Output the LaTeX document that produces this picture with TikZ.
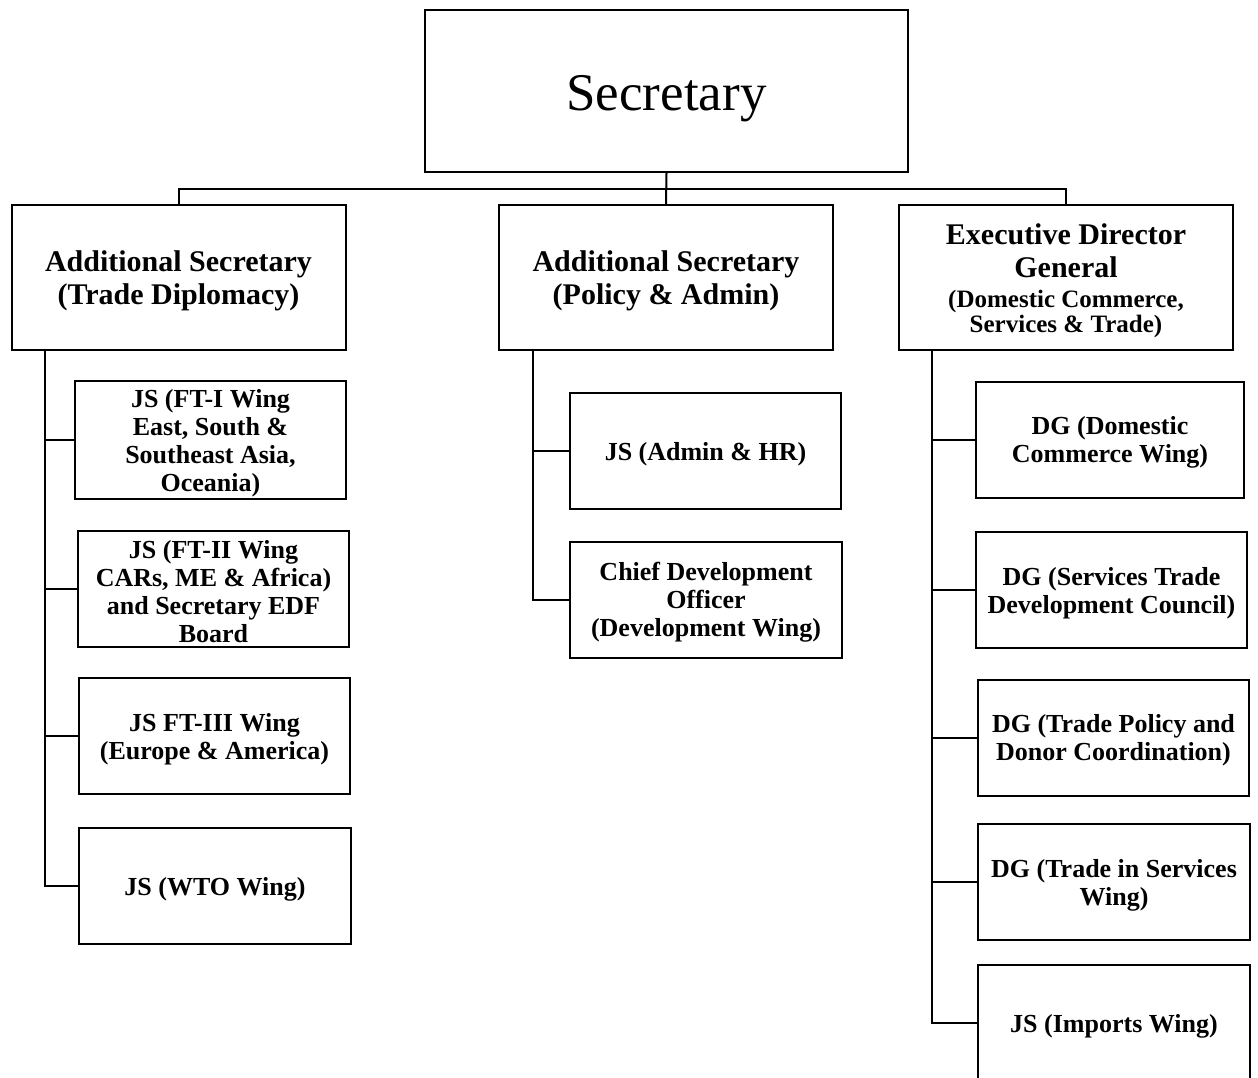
\documentclass[tikz,border=0pt]{standalone}
\usepackage{fontspec}
\setmainfont{Liberation Serif}
% invisible struts that give the first line of a box a little more headroom
\newcommand\kidstrut{\rule{0pt}{24pt}}
\newcommand\headstrut{\rule{0pt}{28pt}}
\begin{document}
\begin{tikzpicture}[x=1pt,y=-1pt,
  box/.style={draw, line width=2pt, align=flush center, inner sep=2pt,
    font=\bfseries\fontsize{26}{28}\selectfont},
  kid/.style={box, text width=262pt, minimum height=116pt},
  head/.style={box, text width=326pt, minimum width=334pt, minimum height=145pt,
    font=\bfseries\fontsize{30}{33}\selectfont},
  link/.style={line width=2pt},
]
\path[use as bounding box, fill=white] (0,0) rectangle (1258,1077);
\clip (0,0) rectangle (1258,1077);

% top level
\node[draw, line width=2pt, minimum width=483pt, minimum height=162pt,
  text height=50pt, text depth=12pt,
  font=\fontsize{53}{60}\selectfont] (sec) at (666.5,91) {Secretary};

% second level
\node[head] (as1) at (178.5,277.5) {\headstrut Additional Secretary\\(Trade Diplomacy)};
\node[head] (as2) at (666,277.5) {\headstrut Additional Secretary\\(Policy \& Admin)};
\node[head] (edg) at (1066,277.5) {\headstrut Executive Director\\General\par\vspace{5pt}%
  \fontsize{25}{25}\selectfont(Domestic Commerce,\\Services \& Trade)\par};

% trade diplomacy wings
\node[kid, minimum width=271pt] (l1) at (210.5,440) {\kidstrut JS (FT-I Wing\\East, South \&\\Southeast Asia,\\Oceania)};
\node[kid, minimum width=271pt] (l2) at (213.5,588.5) {\kidstrut JS (FT-II Wing\\CARs, ME \& Africa)\\and Secretary EDF\\Board};
\node[kid, minimum width=271pt] (l3) at (214.5,736) {\kidstrut JS FT-III Wing\\(Europe \& America)};
\node[kid, minimum width=272pt] (l4) at (215,886) {\kidstrut JS (WTO Wing)};

% policy and admin wings
\node[kid, minimum width=271pt] (m1) at (705.5,451) {\kidstrut JS (Admin \& HR)};
\node[kid, minimum width=272pt] (m2) at (706,599.5) {\kidstrut Chief Development\\Officer\\(Development Wing)};

% domestic commerce, services and trade wings
\node[kid, minimum width=268pt] (r1) at (1110,439.5) {\kidstrut DG (Domestic\\Commerce Wing)};
\node[kid, minimum width=271pt] (r2) at (1111.5,590) {\kidstrut DG (Services Trade\\Development Council)};
\node[kid, minimum width=271pt] (r3) at (1113.5,737.5) {\kidstrut DG (Trade Policy and\\Donor Coordination)};
\node[kid, minimum width=272pt] (r4) at (1114,882) {\kidstrut DG (Trade in Services\\Wing)};
\node[kid, minimum width=272pt] (r5) at (1114,1023) {\kidstrut JS (Imports Wing)};

% secretary to second level
\coordinate (bus) at (666,189);
\draw[link] (sec.south) -- (as2.north);
\draw[link] (as1.north) |- (bus) -| (edg.north);

% trunks down the left of each column
\coordinate (t1) at (45,350);
\coordinate (t2) at (533,350);
\coordinate (t3) at (932,350);

\draw[link] (t1) |- (l4.west);
\foreach \n in {l1,l2,l3} \draw[link] (t1 |- \n.west) -- (\n.west);

\draw[link] (t2) |- (m2.west);
\draw[link] (t2 |- m1.west) -- (m1.west);

\draw[link] (t3) |- (r5.west);
\foreach \n in {r1,r2,r3,r4} \draw[link] (t3 |- \n.west) -- (\n.west);
\end{tikzpicture}
\end{document}
